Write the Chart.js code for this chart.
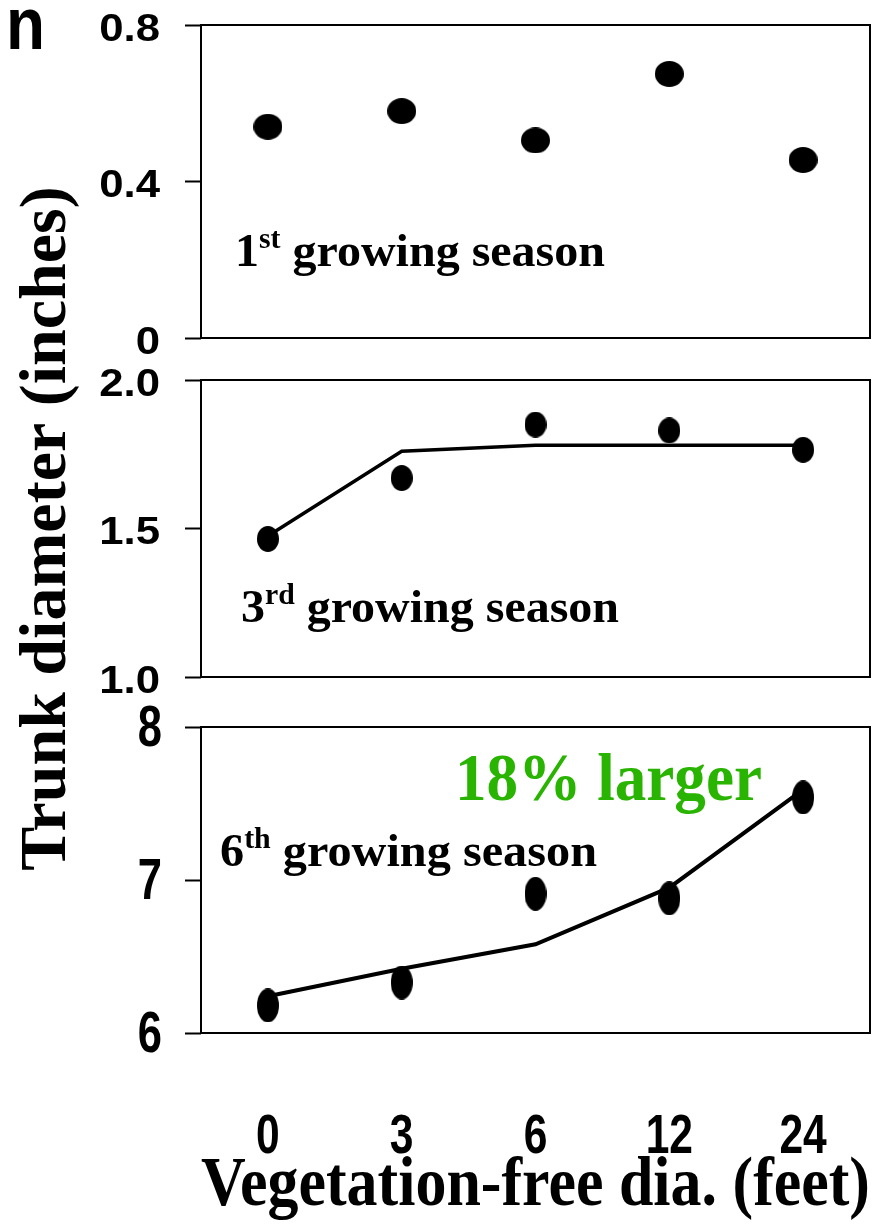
<!DOCTYPE html>
<html>
<head>
<meta charset="utf-8">
<script src="https://cdn.jsdelivr.net/npm/chart.js@4.4.1/dist/chart.umd.min.js"></script>
<style>
  body { margin: 0; background: #fff; }
  #wrap { position: relative; width: 880px; height: 1224px; }
  #wrap canvas { position: absolute; left: 0; top: 0; }
</style>
</head>
<body>
<div id="wrap">
  <canvas id="season1" width="880" height="1224"></canvas>
  <canvas id="season3" width="880" height="1224"></canvas>
  <canvas id="season6" width="880" height="1224"></canvas>
</div>
<script>
// vegetation-free diameter (feet), categories on the x axis
const distances = ['0', '3', '6', '12', '24'];

// trunk diameter (inches)
const season1Dots = [0.54, 0.58, 0.505, 0.675, 0.455];
const season3Dots = [1.465, 1.67, 1.85, 1.83, 1.765];
const season3Fit = [1.475, 1.76, 1.78, 1.78, 1.78];
const season6Dots = [6.18, 6.33, 6.91, 6.88, 7.54];
const season6Fit = [6.24, 6.42, 6.58, 6.95, 7.59];

const season1Ticks = [0, 0.4, 0.8];
const season3Ticks = [1.0, 1.5, 2.0];
const season6Ticks = [6, 7, 8];

const SERIF = "'Liberation Serif', 'Times New Roman', serif";
const SANS = "'Liberation Sans', Arial, sans-serif";

function ellipseDot(w, h) {
  const c = document.createElement('canvas');
  c.width = w;
  c.height = h;
  const g = c.getContext('2d');
  g.fillStyle = '#000';
  g.beginPath();
  g.ellipse(w / 2, h / 2, w / 2, h / 2, 0, 0, Math.PI * 2);
  g.fill();
  return c;
}

// frame round the plot area
const boxPlugin = {
  id: 'box',
  beforeDatasetsDraw(chart) {
    const a = chart.chartArea;
    const ctx = chart.ctx;
    ctx.save();
    ctx.strokeStyle = '#000';
    ctx.lineWidth = 2;
    ctx.strokeRect(a.left, a.top, a.right - a.left, a.bottom - a.top);
    ctx.restore();
  }
};

// tick labels, placed by the scales but drawn wider/narrower like the original
const tickTextPlugin = {
  id: 'tickText',
  afterDraw(chart, args, opts) {
    const ctx = chart.ctx;
    ['x', 'y'].forEach(id => {
      const o = opts[id];
      if (!o) return;
      const s = chart.scales[id];
      ctx.save();
      ctx.fillStyle = '#000';
      ctx.textBaseline = 'alphabetic';
      ctx.font = 'bold ' + o.size + 'px ' + SANS;
      o.values.forEach((v, i) => {
        const text = o.format(v);
        const w = ctx.measureText(text).width * o.sx;
        let px, py;
        if (id === 'y') {
          px = s.right - o.gap - w;
          py = s.getPixelForValue(v) + o.size * 0.358 + o.shift;
        } else {
          px = s.getPixelForValue(i) - w / 2;
          py = chart.chartArea.bottom + o.gap;
        }
        ctx.save();
        ctx.translate(px, py);
        ctx.scale(o.sx, 1);
        ctx.fillText(text, 0, 0);
        ctx.restore();
      });
      ctx.restore();
    });
  }
};

// free text inside the panels, fitted to the given width
const notesPlugin = {
  id: 'notes',
  afterDraw(chart, args, opts) {
    const ctx = chart.ctx;
    (opts.items || []).forEach(n => {
      const fam = n.family || SERIF;
      const fontOf = p => 'bold ' + (p.sup ? n.size * 0.62 : n.size) + 'px ' + fam;
      let w = 0;
      n.parts.forEach(p => { ctx.font = fontOf(p); w += ctx.measureText(p.t).width; });
      ctx.save();
      ctx.fillStyle = n.color || '#000';
      ctx.textBaseline = 'alphabetic';
      ctx.translate(n.x, n.y);
      ctx.scale(n.width ? n.width / w : 1, 1);
      let cx = 0;
      n.parts.forEach(p => {
        ctx.font = fontOf(p);
        ctx.fillText(p.t, cx, p.sup ? -n.size * 0.4 : 0);
        cx += ctx.measureText(p.t).width;
      });
      ctx.restore();
    });
  }
};

function yAxis(ticks, title) {
  return {
    type: 'linear',
    min: ticks[0],
    max: ticks[ticks.length - 1],
    afterBuildTicks: s => { s.ticks = ticks.map(v => ({ value: v })); },
    afterFit: s => { s.width = 201; s.paddingTop = 0; s.paddingBottom = 0; },
    border: { display: false },
    grid: { drawOnChartArea: false, drawTicks: true, tickLength: 16, tickWidth: 2, tickColor: '#000' },
    ticks: { display: false },
    title: title || { display: false }
  };
}

function panel(id, top, bottom, datasets, y, x, tickText, notes) {
  return new Chart(document.getElementById(id), {
    type: 'line',
    data: { labels: distances, datasets: datasets },
    options: {
      responsive: false,
      animation: false,
      devicePixelRatio: 1,
      layout: { padding: { top: top, bottom: bottom, left: 0, right: 10 } },
      plugins: {
        legend: { display: false },
        tooltip: { enabled: false },
        tickText: tickText,
        notes: { items: notes }
      },
      scales: { x: x, y: y }
    },
    plugins: [boxPlugin, tickTextPlugin, notesPlugin]
  });
}

const hiddenX = { type: 'category', offset: true, display: false };

function dots(values, w, h) {
  return { data: values, showLine: false, pointStyle: ellipseDot(w, h), pointRadius: 10, borderWidth: 0 };
}
function fit(values, width) {
  return { data: values, borderColor: '#000', borderWidth: width, pointRadius: 0, tension: 0, fill: false };
}

const wideLabels = { size: 38, sx: 1.15, gap: 41, shift: 2 };

// 1st growing season
panel('season1', 25, 1224 - 338,
  [dots(season1Dots, 29, 26)],
  yAxis(season1Ticks),
  hiddenX,
  { y: Object.assign({ values: season1Ticks, format: v => v === 0 ? '0' : v.toFixed(1) }, wideLabels) },
  [
    { x: 6, y: 49, size: 74, family: SANS, width: 39, parts: [{ t: 'n' }] },
    { x: 235, y: 266, size: 46, width: 370, parts: [{ t: '1' }, { t: 'st', sup: true }, { t: ' growing season' }] }
  ]);

// 3rd growing season (carries the shared y title)
panel('season3', 380, 1224 - 677,
  [dots(season3Dots, 22, 26), fit(season3Fit, 3.5)],
  yAxis(season3Ticks, {
    display: true,
    text: 'Trunk diameter (inches)',
    color: '#000',
    font: { family: SERIF, size: 66, weight: 'bold', lineHeight: 1 },
    padding: { top: 15, bottom: 0 }
  }),
  hiddenX,
  { y: Object.assign({ values: season3Ticks, format: v => v.toFixed(1) }, wideLabels) },
  [
    { x: 241, y: 622, size: 46, width: 378, parts: [{ t: '3' }, { t: 'rd', sup: true }, { t: ' growing season' }] }
  ]);

// 6th growing season (carries the x axis)
panel('season6', 727, 0,
  [dots(season6Dots, 22, 34), fit(season6Fit, 4)],
  yAxis(season6Ticks),
  {
    type: 'category',
    offset: true,
    afterFit: s => { s.height = 1224 - 1033; s.paddingLeft = 0; s.paddingRight = 0; },
    border: { display: false },
    grid: { display: false, drawTicks: false },
    ticks: { display: false },
    title: {
      display: true,
      text: 'Vegetation-free dia. (feet)',
      color: '#000',
      font: { family: SERIF, size: 69, weight: 'bold', lineHeight: 1 },
      padding: { top: 0, bottom: 2 }
    }
  },
  {
    y: { values: season6Ticks, format: v => String(v), size: 58, sx: 0.75, gap: 39, shift: -2 },
    x: { values: distances, format: v => v, size: 56, sx: 0.76, gap: 120 }
  },
  [
    { x: 220, y: 866, size: 46, width: 377, parts: [{ t: '6' }, { t: 'th', sup: true }, { t: ' growing season' }] },
    { x: 455, y: 800, size: 68, width: 307, color: '#28b400', parts: [{ t: '18% larger' }] }
  ]);
</script>
</body>
</html>
